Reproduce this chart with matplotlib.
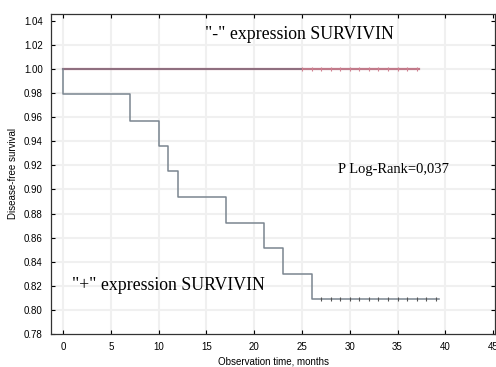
import matplotlib
matplotlib.use('Agg')
import matplotlib.pyplot as plt
import numpy as np

# Kaplan-Meier data
pos_times = [0, 7, 10, 11, 12, 17, 21, 23, 26, 39.3]
pos_surv = [0.979, 0.957, 0.936, 0.915, 0.894, 0.872, 0.851, 0.830, 0.809, 0.809]
pos_censored = [27, 28, 29, 30, 31, 32, 33, 34, 35, 36, 37, 38, 39]

neg_times = [0, 37.2]
neg_surv = [1.0, 1.0]
neg_censored = [25, 26, 27, 28, 29, 30, 31, 32, 33, 34, 35, 36, 37]

xticks = [0, 5, 10, 15, 20, 25, 30, 35, 40, 45]
yticks = [0.78, 0.80, 0.82, 0.84, 0.86, 0.88, 0.90, 0.92, 0.94, 0.96, 0.98, 1.00, 1.02, 1.04]

sans = 'Liberation Sans'
serif = 'Liberation Serif'

fig = plt.figure(figsize=(4.96, 3.67), dpi=100)
ax = fig.add_axes([0.103, 0.090, 0.895, 0.872])

# faint grid like the scan
for x in xticks[:-1]:
    ax.axvline(x, color='#f0f0f0', lw=1.5, zorder=0)
for y in yticks[1:-1]:
    ax.axhline(y, color='#f0f0f0', lw=1.5, zorder=0)

# "+" group: start at 1.0 then steps
tx = [0] + pos_times
ty = [1.0] + pos_surv
ax.step(tx, ty, where='post', color='#7a8590', lw=1.1, zorder=3)
ax.plot(pos_censored, [pos_surv[-1]] * len(pos_censored), '|', color='#555555',
        ms=3, mew=0.8, zorder=4)

# "-" group
ax.plot(neg_times, neg_surv, color='#c07a8a', lw=1.6, zorder=2)
ax.plot(neg_times[:1] + [25], [1.0, 1.0], color='#8e6f80', lw=1.4, zorder=2)
ax.plot(neg_censored, [1.0] * len(neg_censored), '|', color='#d08090',
        ms=3, mew=0.8, zorder=4)

ax.set_xlim(-1.26, 45.2)
ax.set_ylim(0.78, 1.0458)
ax.set_xticks(xticks)
ax.set_yticks(yticks)
ax.set_xticklabels([str(x) for x in xticks], fontsize=7, family=sans)
ax.set_yticklabels(['%.2f' % y for y in yticks], fontsize=7, family=sans)
ax.tick_params(direction='in', length=3, width=0.8, top=True, right=True, pad=6)
for s in ax.spines.values():
    s.set_linewidth(0.9)
    s.set_color('#333333')

ax.set_xlabel('Observation time, months', fontsize=7, family=sans, labelpad=3)
ax.set_ylabel('Disease-free survival', fontsize=7, family=sans, labelpad=4)

ax.text(14.9, 1.0284, '"-" expression SURVIVIN', fontsize=12.8, family=serif,
        va='center', ha='left')
ax.text(0.94, 0.820, '"+" expression SURVIVIN', fontsize=12.8, family=serif,
        va='center', ha='left')
ax.text(28.8, 0.917, 'P Log-Rank=0,037', fontsize=10.5, family=serif,
        va='center', ha='left')

fig.savefig('out.png', dpi=100)
